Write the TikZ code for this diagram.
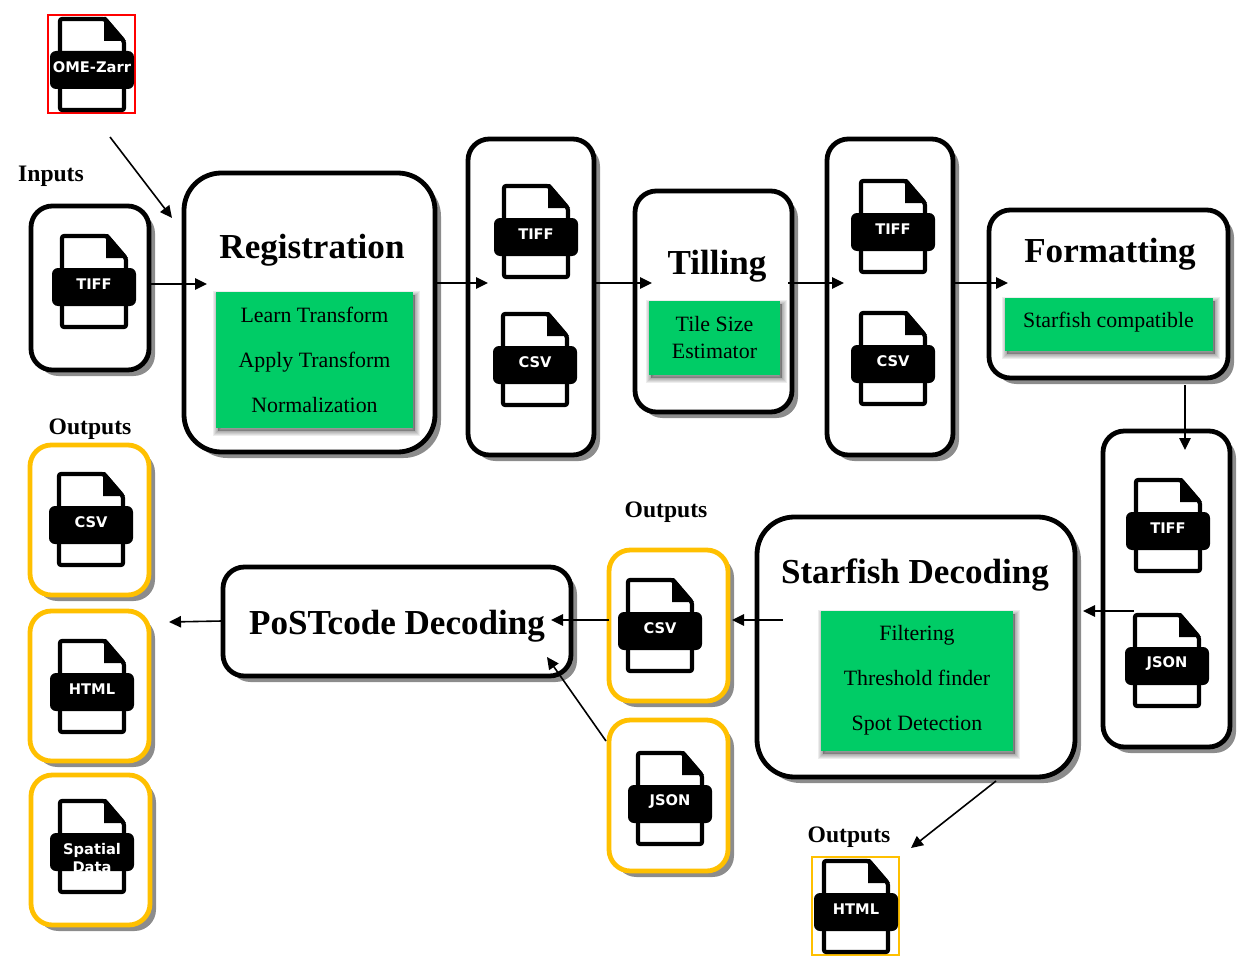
\documentclass[tikz,border=0pt]{standalone}
\usepackage{fontspec}
\setmainfont{Liberation Serif}
\newfontfamily\iconfont{DejaVu Sans}
\usetikzlibrary{arrows.meta,shadows}
\definecolor{procgreen}{HTML}{00CC66}
\definecolor{outamber}{HTML}{FFC000}
\definecolor{shadowgray}{HTML}{8C8C8C}
\tikzset{
  x=0.75pt,y=-0.75pt,
  panel/.style={draw=black,fill=white,line width=3.6pt,outer sep=0pt,inner sep=0pt,
    drop shadow={shadow xshift=4.5pt,shadow yshift=-4.5pt,fill=shadowgray,opacity=1}},
  smallpanel/.style={panel,rounded corners=16pt},
  bigpanel/.style={panel,rounded corners=28pt},
  outpanel/.style={smallpanel,draw=outamber},
  framebox/.style={draw=#1,line width=2.1pt,fill=white,outer sep=0pt,inner sep=0pt},
  softlayer/.style={general shadow={fill=black,draw=black,line width=#1,opacity=.07,shadow xshift=1.5pt,shadow yshift=-2.5pt}},
  greenbox/.style={fill=procgreen,outer sep=0pt,inner sep=0pt,align=center,text=black,
    softlayer=7pt,softlayer=5.5pt,softlayer=4pt,softlayer=2.5pt,softlayer=1pt},
  bodytext/.style={font=\fontsize{16.4}{33.75}\selectfont},
  titletext/.style={font=\bfseries\fontsize{26.3}{30}\selectfont,inner sep=0pt},
  headtext/.style={font=\bfseries\fontsize{17.7}{20}\selectfont,inner sep=0pt},
  fileband/.style={fill=black,rounded corners=4.5pt,minimum width=63pt,minimum height=28.5pt,inner sep=0pt,outer sep=0pt},
  filelabel/.style={text=white,inner sep=0pt,align=center,font=\iconfont\bfseries\fontsize{11}{13.5}\selectfont},
  flow/.style={draw=black,line width=1.2pt,-{Triangle[length=9pt,width=8.5pt]}},
}
\newcommand{\panelbox}[6]{\node[#6,minimum width={(#4-#2)*0.75pt},minimum height={(#5-#3)*0.75pt}] (#1) at ({(#2+#4)/2},{(#3+#5)/2}) {};}
\newcommand{\fileicon}[5][-3]{%
  \begin{scope}[shift={(#3,#4)}]
    \draw[line width=3.1pt,rounded corners=1.5pt,fill=white,line join=round] (-32,-51) -- (13,-51) -- (32,-29) -- (32,40) -- (-32,40) -- cycle;
    \fill[black,line join=round] (12,-53) -- (14,-53) -- (34,-29) -- (12,-29) -- cycle;
    \node[fileband] (#2) at (0,0) {};
    \node[filelabel] (#2text) at (0,#1) {#5};
  \end{scope}}
\begin{document}
\begin{tikzpicture}
\useasboundingbox (0,0) rectangle (1254,974);
% panels
\panelbox{inputbox}{31}{206}{149}{370}{smallpanel}
\panelbox{reg}{184}{173}{435}{452}{bigpanel}
\panelbox{setone}{468}{139}{594}{455}{smallpanel}
\panelbox{till}{635}{191}{792}{412}{smallpanel}
\panelbox{settwo}{827}{139}{953}{455}{smallpanel}
\panelbox{form}{989}{210}{1228}{378}{smallpanel}
\panelbox{setthree}{1103}{431}{1230}{747}{smallpanel}
\panelbox{star}{757}{517}{1075}{777}{bigpanel}
\panelbox{post}{223}{567}{571}{676}{smallpanel}
\panelbox{midcsv}{609}{550}{728}{701}{outpanel}
\panelbox{midjson}{609}{720}{728}{871}{outpanel}
\panelbox{outcsv}{30}{445}{149}{595}{outpanel}
\panelbox{outhtml}{30}{611}{149}{761}{outpanel}
\panelbox{outspatial}{31}{775}{150}{925}{outpanel}
\panelbox{omeframe}{48}{15}{135}{113}{framebox=red}
\panelbox{htmlframe}{812}{857}{899}{955}{framebox=outamber}
% file icons
\fileicon{omefile}{92}{70}{OME-Zarr}
\fileicon{inputtiff}{94}{287}{TIFF}
\fileicon{onetiff}{536}{237}{TIFF}
\fileicon{onecsv}{535}{365}{CSV}
\fileicon{twotiff}{893}{232}{TIFF}
\fileicon{twocsv}{893}{364}{CSV}
\fileicon{threetiff}{1168}{531}{TIFF}
\fileicon[-2]{threejson}{1167}{666}{JSON}
\fileicon{midcsvfile}{660}{631}{CSV}
\fileicon[-2]{midjsonfile}{670}{804}{JSON}
\fileicon{outcsvfile}{91}{525}{CSV}
\fileicon{outhtmlfile}{92}{692}{HTML}
\fileicon[6]{outspatialfile}{92}{852}{Spatial\\Data}
\fileicon{htmlfile}{856}{912}{HTML}
% titles
\node[titletext] (regtitle) at (312,250) {Registration};
\node[titletext] (tilltitle) at (717,266) {Tilling};
\node[titletext] (formtitle) at (1110,254) {Formatting};
\node[titletext] (startitle) at (915,575) {Starfish Decoding};
\node[titletext] (posttitle) at (397,626) {PoSTcode Decoding};
% green boxes
\panelbox{reggreen}{216}{292}{413}{428}{greenbox}
\node[bodytext,align=center,inner sep=0pt] (regtext) at (314.5,360) {Learn Transform\\Apply Transform\\Normalization};
\panelbox{tillgreen}{649}{301}{780}{375}{greenbox}
\node[font=\fontsize{16.4}{20.25}\selectfont,align=center,inner sep=0pt] (tilltext) at (714.5,337.5) {Tile Size\\Estimator};
\panelbox{formgreen}{1005}{298}{1213}{351}{greenbox}
\node[font=\fontsize{16.4}{20}\selectfont,inner sep=0pt] (formtext) at (1108.5,322) {Starfish compatible};
\panelbox{stargreen}{821}{611}{1013}{751}{greenbox}
\node[bodytext,align=center,inner sep=0pt] (startext) at (917,680) {Filtering\\Threshold finder\\Spot Detection};
% headings
\node[headtext] (inputshead) at (51,176) {Inputs};
\node[headtext] (outleft) at (90,429) {Outputs};
\node[headtext] (outmid) at (666,512) {Outputs};
\node[headtext] (outhtmlhead) at (849,837) {Outputs};
% connector free ends
\coordinate (omestart) at (110,137);
\coordinate (omeend) at (172,218);
\coordinate (inputend) at (207,284);
\coordinate (regstart) at (435,283);
\coordinate (oneend) at (488,283);
\coordinate (onestart) at (595,283);
\coordinate (tillend) at (652,283);
\coordinate (tillstart) at (788,283);
\coordinate (twoend) at (844,283);
\coordinate (twostart) at (953,283);
\coordinate (formend) at (1008,283);
\coordinate (formstart) at (1185,385);
\coordinate (threeend) at (1185,450);
\coordinate (threestart) at (1134,611);
\coordinate (starend) at (1083,611);
\coordinate (starstart) at (783,620);
\coordinate (midend) at (732,620);
\coordinate (midstart) at (609,620);
\coordinate (postend) at (551,620);
\coordinate (jsonstart) at (606,741);
\coordinate (postendb) at (547,657);
\coordinate (poststart) at (222,621);
\coordinate (leftend) at (169,622);
\coordinate (starlow) at (996,781);
\coordinate (htmlend) at (911,848);
% connectors
\draw[flow] (omestart) -- (omeend);
\draw[flow] (inputbox.east |- inputend) -- (inputend);
\draw[flow] (regstart) -- (oneend);
\draw[flow] (onestart) -- (tillend);
\draw[flow] (tillstart) -- (twoend);
\draw[flow] (twostart) -- (formend);
\draw[flow] (formstart) -- (threeend);
\draw[flow] (threestart) -- (starend);
\draw[flow] (starstart) -- (midend);
\draw[flow] (midstart) -- (postend);
\draw[flow] (jsonstart) -- (postendb);
\draw[flow] (poststart) -- (leftend);
\draw[flow] (starlow) -- (htmlend);
\end{tikzpicture}
\end{document}
